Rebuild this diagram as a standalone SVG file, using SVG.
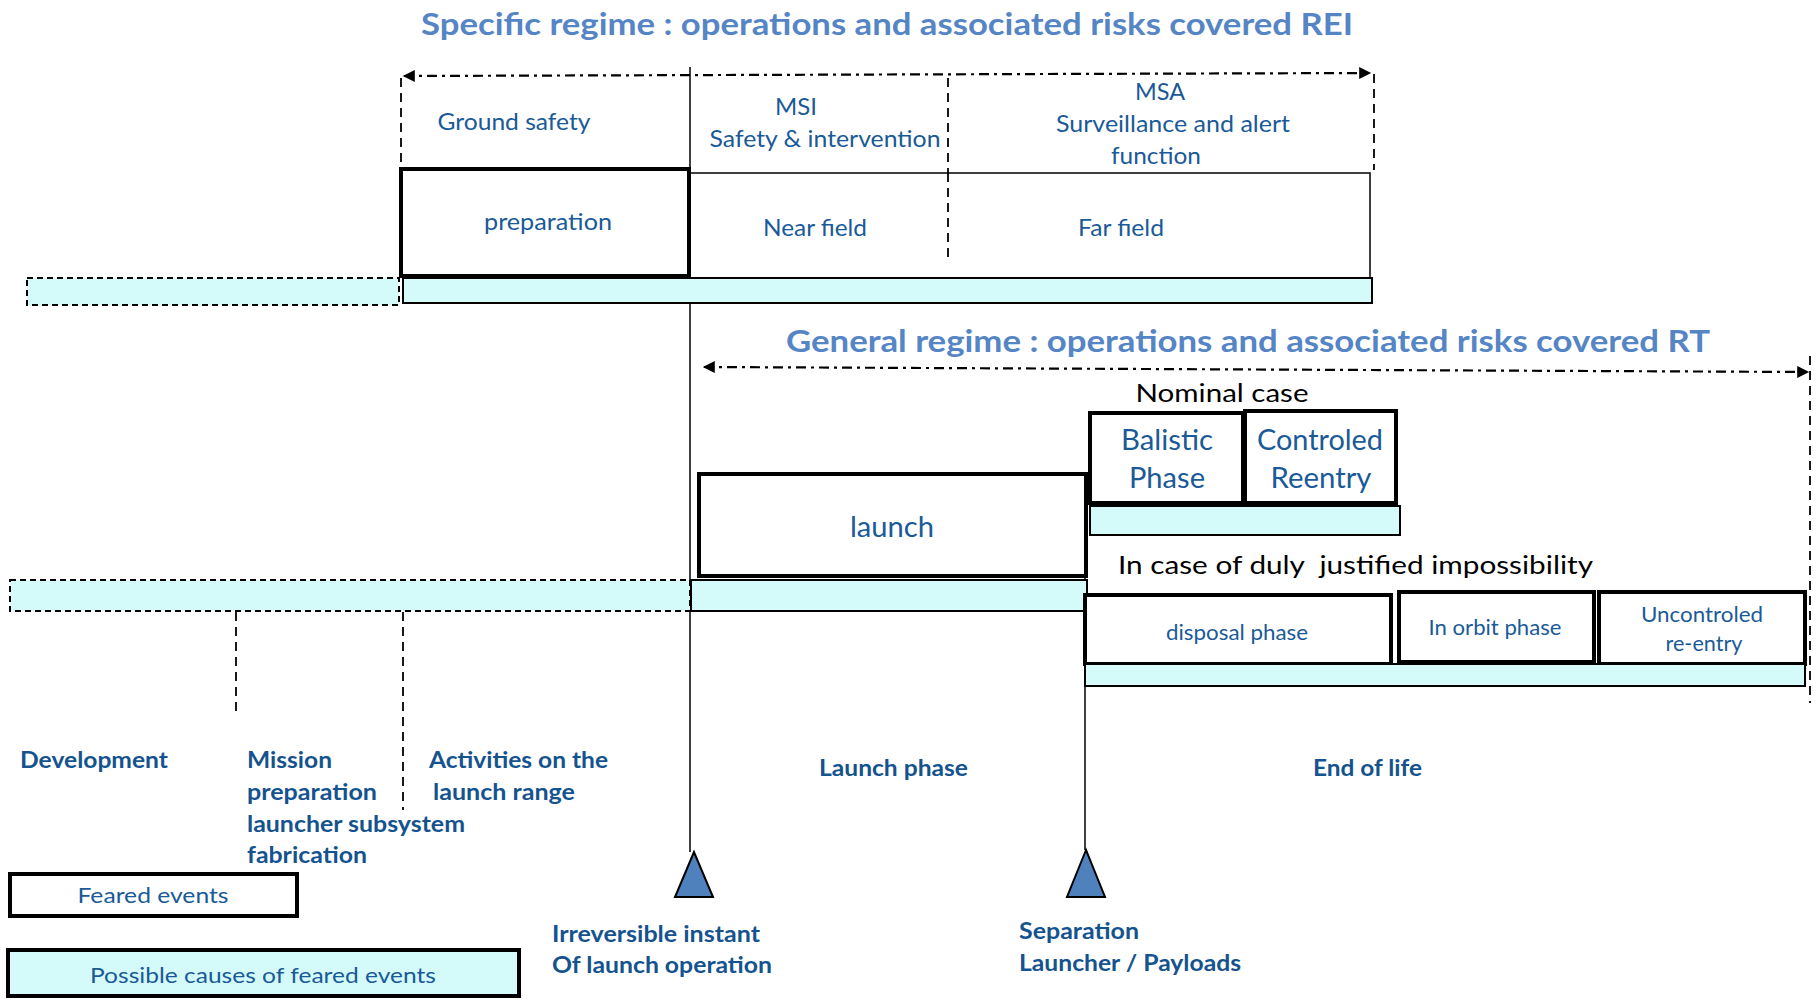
<svg xmlns="http://www.w3.org/2000/svg" width="1820" height="999" viewBox="0 0 1820 999">
<style>
.t{font-family:Lato,"Noto Sans","Liberation Sans",sans-serif;fill:#1A5A98}
.title{font-family:Lato,"Noto Sans","Liberation Sans",sans-serif;font-weight:bold;fill:#5585C5;font-size:31px}
.b{font-weight:bold;font-size:23px;fill:#15538F}
.k{fill:#000}
.thick{fill:#fff;stroke:#000;stroke-width:4}
.thin{fill:#fff;stroke:#000;stroke-width:1.5}
.cyan{fill:#D4FAFA;stroke:#000;stroke-width:2}
.cyand{fill:#D4FAFA;stroke:#000;stroke-width:2;stroke-dasharray:6 4}
.dash{fill:none;stroke:#000;stroke-width:1.8;stroke-dasharray:9 6}
.solid{fill:none;stroke:#000;stroke-width:1.5}
.dd{fill:none;stroke:#000;stroke-width:2.2;stroke-dasharray:10 5 3 5}
.tri{fill:#4F81BD;stroke:#000;stroke-width:2}
</style>
<defs>
<marker id="ah" viewBox="0 0 10 10" refX="9" refY="5" markerWidth="14" markerHeight="12" orient="auto-start-reverse" markerUnits="userSpaceOnUse">
<path d="M0,0 L10,5 L0,10 z" fill="#000" stroke="none"/>
</marker>
</defs>
<rect width="1820" height="999" fill="#fff"/>

<g id="titles">
<text class="title" x="421" y="35" textLength="932" lengthAdjust="spacingAndGlyphs">Specific regime : operations and associated risks covered REI</text>
<text class="title" x="786" y="352" textLength="924" lengthAdjust="spacingAndGlyphs">General regime : operations and associated risks covered RT</text>
</g>

<g id="connectors">
<line class="dd" x1="404" y1="76" x2="1370" y2="73" marker-start="url(#ah)" marker-end="url(#ah)"/>
<line class="dd" x1="704" y1="367" x2="1808" y2="372" marker-start="url(#ah)" marker-end="url(#ah)"/>
<line class="dash" x1="401" y1="78" x2="401" y2="168"/>
<line class="dash" x1="1374" y1="74" x2="1374" y2="170"/>
<line class="dash" x1="948" y1="78" x2="948" y2="263"/>
<line class="dash" x1="1810" y1="356" x2="1810" y2="703"/>
<line class="dash" x1="236" y1="582" x2="236" y2="712"/>
<line class="dash" x1="403" y1="582" x2="403" y2="810"/>
<line class="solid" x1="690" y1="67" x2="690" y2="852"/>
<line class="solid" x1="1085" y1="576" x2="1085" y2="850"/>
<polygon class="tri" points="694,852 675,897 713,897"/>
<polygon class="tri" points="1086,850 1067,897 1105,897"/>
</g>

<g id="ground-safety"><text class="t" x="514" y="130" font-size="23" text-anchor="middle" textLength="153" lengthAdjust="spacingAndGlyphs">Ground safety</text></g>
<g id="msi">
<text class="t" x="796" y="115" font-size="23" text-anchor="middle" textLength="42" lengthAdjust="spacingAndGlyphs">MSI</text>
<text class="t" x="825" y="147" font-size="23" text-anchor="middle" textLength="231" lengthAdjust="spacingAndGlyphs">Safety &amp; intervention</text>
</g>
<g id="msa">
<text class="t" x="1160" y="100" font-size="23" text-anchor="middle" textLength="50" lengthAdjust="spacingAndGlyphs">MSA</text>
<text class="t" x="1173" y="132" font-size="23" text-anchor="middle" textLength="234" lengthAdjust="spacingAndGlyphs">Surveillance and alert</text>
<text class="t" x="1156" y="164" font-size="23" text-anchor="middle" textLength="90" lengthAdjust="spacingAndGlyphs">function</text>
</g>

<g id="fields">
<rect class="thin" x="689" y="173" width="681" height="105"/>
<line class="dash" x1="948" y1="173" x2="948" y2="263"/>
<text class="t" x="815" y="236" font-size="23" text-anchor="middle" textLength="104" lengthAdjust="spacingAndGlyphs">Near field</text>
<text class="t" x="1121" y="236" font-size="23" text-anchor="middle" textLength="86" lengthAdjust="spacingAndGlyphs">Far field</text>
</g>
<g id="preparation">
<rect class="thick" x="401" y="169" width="288" height="107"/>
<text class="t" x="548" y="230" font-size="23" text-anchor="middle" textLength="128" lengthAdjust="spacingAndGlyphs">preparation</text>
</g>
<g id="causes-specific">
<rect class="cyand" x="27" y="278" width="372" height="27"/>
<rect class="cyan" x="403" y="278" width="969" height="25"/>
</g>

<g id="nominal">
<text class="t k" x="1222" y="402" font-size="25" text-anchor="middle" textLength="173" lengthAdjust="spacingAndGlyphs">Nominal case</text>
</g>
<g id="balistic">
<rect class="thick" x="1090" y="413" width="153" height="90"/>
<text class="t" x="1167" y="450" font-size="28" text-anchor="middle" textLength="92" lengthAdjust="spacingAndGlyphs">Balistic</text>
<text class="t" x="1167" y="488" font-size="28" text-anchor="middle" textLength="76" lengthAdjust="spacingAndGlyphs">Phase</text>
</g>
<g id="controled">
<rect class="thick" x="1245" y="411" width="151" height="92"/>
<text class="t" x="1320" y="450" font-size="28" text-anchor="middle" textLength="126" lengthAdjust="spacingAndGlyphs">Controled</text>
<text class="t" x="1321" y="488" font-size="28" text-anchor="middle" textLength="101" lengthAdjust="spacingAndGlyphs">Reentry</text>
</g>
<rect id="causes-nominal" class="cyan" x="1090" y="506" width="310" height="29"/>

<g id="launch">
<rect class="thick" x="699" y="474" width="387" height="102"/>
<text class="t" x="892" y="537" font-size="28" text-anchor="middle" textLength="84" lengthAdjust="spacingAndGlyphs">launch</text>
</g>
<g id="causes-launch">
<rect class="cyand" x="10" y="580" width="680" height="31"/>
<rect class="cyan" x="691" y="580" width="396" height="31"/>
</g>

<g id="impossibility">
<text class="t k" x="1118" y="574" font-size="25" textLength="475" lengthAdjust="spacingAndGlyphs" xml:space="preserve">In case of duly  justified impossibility</text>
</g>
<g id="disposal">
<rect class="thick" x="1085" y="595" width="306" height="69"/>
<text class="t" x="1237" y="640" font-size="21" text-anchor="middle" textLength="142" lengthAdjust="spacingAndGlyphs">disposal phase</text>
</g>
<g id="in-orbit">
<rect class="thick" x="1399" y="592" width="195" height="70"/>
<text class="t" x="1495" y="635" font-size="21" text-anchor="middle" textLength="133" lengthAdjust="spacingAndGlyphs">In orbit phase</text>
</g>
<g id="uncontroled">
<rect class="thick" x="1599" y="592" width="206" height="72"/>
<text class="t" x="1702" y="622" font-size="21" text-anchor="middle" textLength="122" lengthAdjust="spacingAndGlyphs">Uncontroled</text>
<text class="t" x="1704" y="651" font-size="21" text-anchor="middle" textLength="77" lengthAdjust="spacingAndGlyphs">re-entry</text>
</g>
<rect id="causes-end" class="cyan" x="1085" y="664" width="720" height="22"/>

<g id="phase-labels">
<text class="t b" x="20" y="768" textLength="148" lengthAdjust="spacingAndGlyphs">Development</text>
<text class="t b" x="247" y="768" textLength="85" lengthAdjust="spacingAndGlyphs">Mission</text>
<text class="t b" x="247" y="800" textLength="130" lengthAdjust="spacingAndGlyphs">preparation</text>
<text class="t b" x="247" y="832" textLength="218" lengthAdjust="spacingAndGlyphs">launcher subsystem</text>
<text class="t b" x="247" y="863" textLength="120" lengthAdjust="spacingAndGlyphs">fabrication</text>
<text class="t b" x="429" y="768" textLength="179" lengthAdjust="spacingAndGlyphs">Activities on the</text>
<text class="t b" x="433" y="800" textLength="142" lengthAdjust="spacingAndGlyphs">launch range</text>
<text class="t b" x="819" y="776" textLength="149" lengthAdjust="spacingAndGlyphs">Launch phase</text>
<text class="t b" x="1313" y="776" textLength="109" lengthAdjust="spacingAndGlyphs">End of life</text>
<text class="t b" x="552" y="942" textLength="208" lengthAdjust="spacingAndGlyphs">Irreversible instant</text>
<text class="t b" x="552" y="973" textLength="220" lengthAdjust="spacingAndGlyphs">Of launch operation</text>
<text class="t b" x="1019" y="939" textLength="120" lengthAdjust="spacingAndGlyphs">Separation</text>
<text class="t b" x="1019" y="971" textLength="222" lengthAdjust="spacingAndGlyphs">Launcher / Payloads</text>
</g>

<g id="legend-feared">
<rect class="thick" x="10" y="874" width="287" height="42"/>
<text class="t" x="153" y="903" font-size="22" text-anchor="middle" textLength="151" lengthAdjust="spacingAndGlyphs">Feared events</text>
</g>
<g id="legend-causes">
<rect class="cyan" x="8" y="950" width="511" height="46" style="stroke-width:4"/>
<text class="t" x="263" y="983" font-size="22" text-anchor="middle" textLength="346" lengthAdjust="spacingAndGlyphs">Possible causes of feared events</text>
</g>
</svg>
